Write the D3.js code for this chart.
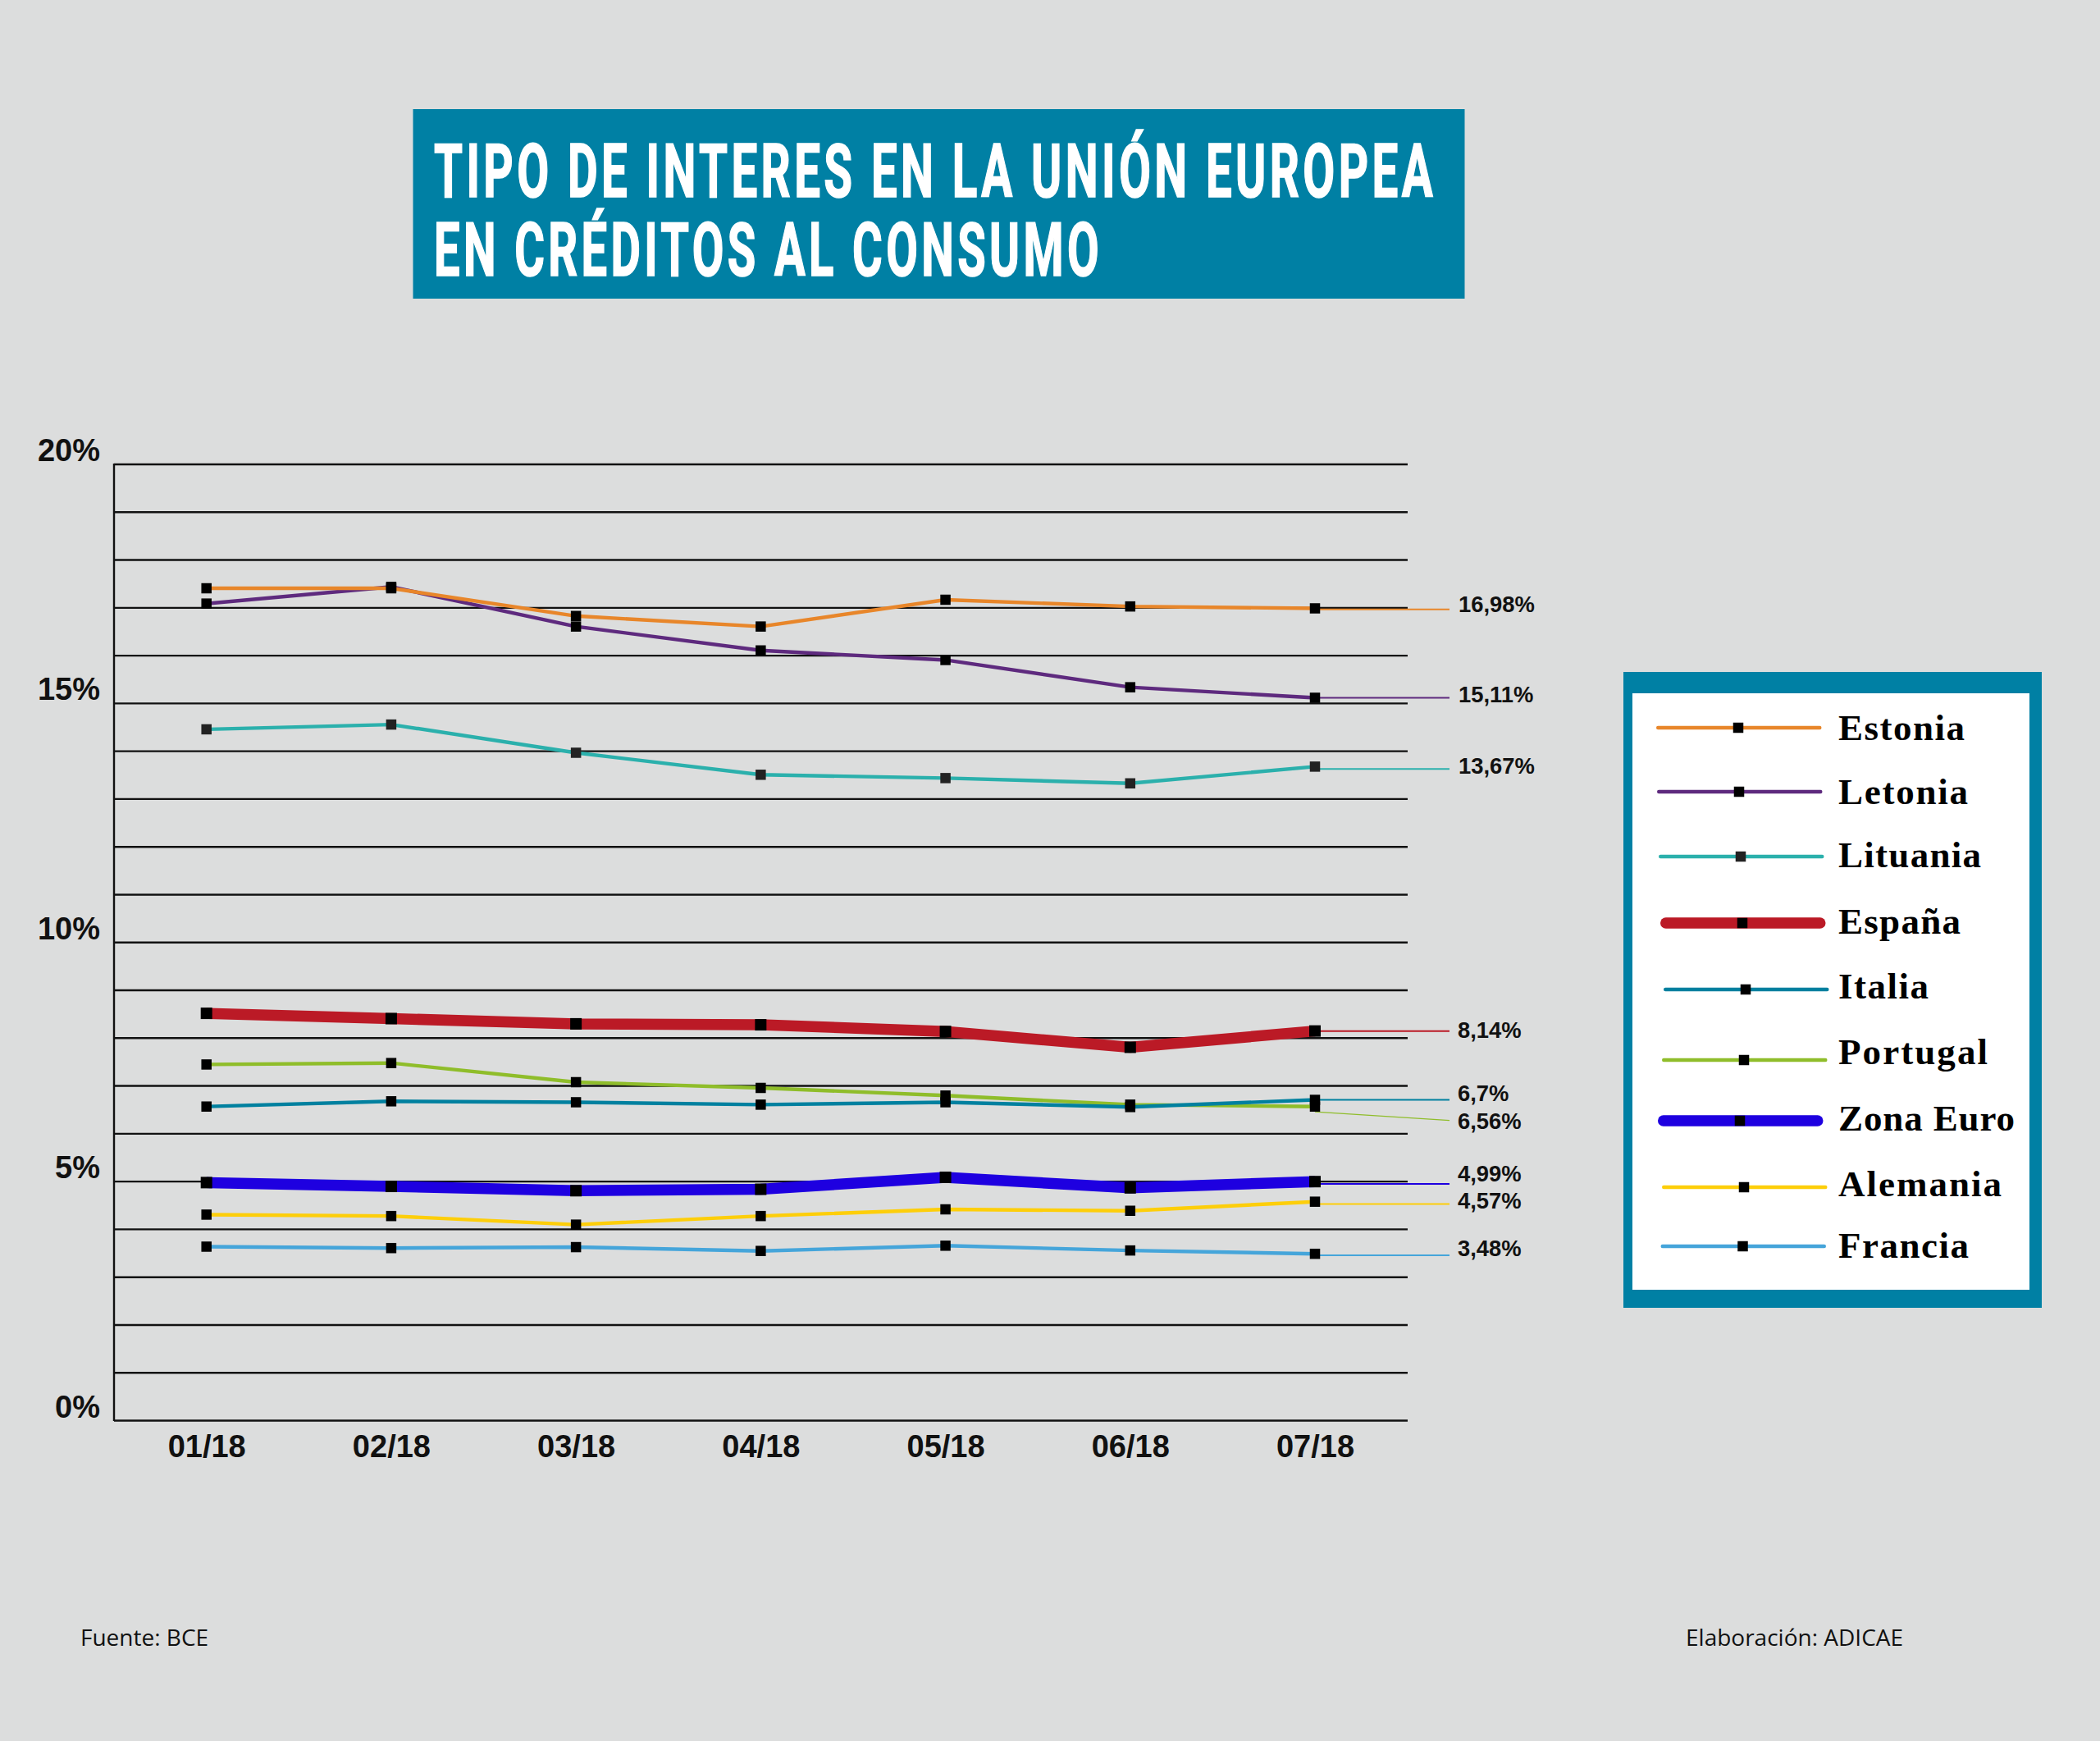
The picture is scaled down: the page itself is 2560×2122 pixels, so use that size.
<!DOCTYPE html>
<html><head><meta charset="utf-8">
<script src="https://cdn.jsdelivr.net/npm/d3@7"></script>
<style>html,body{margin:0;padding:0;background:#dcdddd}svg{display:block}</style></head>
<body><svg id="c" width="2560" height="2122"></svg>
<script>
const months = ["01/18","02/18","03/18","04/18","05/18","06/18","07/18"];
const yTicks = d3.range(0,21);
const yLabelled = [0,5,10,15,20];
const estonia  = [17.40,17.40,16.82,16.60,17.16,17.02,16.98];
const letonia  = [17.08,17.43,16.60,16.10,15.90,15.33,15.11];
const lituania = [14.45,14.55,13.96,13.50,13.43,13.32,13.67];
const espana   = [8.51,8.40,8.29,8.27,8.13,7.80,8.14];
const italia   = [6.56,6.67,6.65,6.60,6.65,6.55,6.70];
const portugal = [7.44,7.47,7.07,6.95,6.79,6.60,6.56];
const zonaEuro = [4.97,4.89,4.80,4.83,5.08,4.86,4.99];
const alemania = [4.30,4.27,4.09,4.27,4.41,4.38,4.57];
const francia  = [3.63,3.60,3.62,3.54,3.65,3.55,3.48];
const seriesNames = ["Estonia","Letonia","Lituania","España","Italia","Portugal","Zona Euro","Alemania","Francia"];
const seriesValues = [estonia,letonia,lituania,espana,italia,portugal,zonaEuro,alemania,francia];
const endLabels = ["16,98%","15,11%","13,67%","8,14%","6,7%","6,56%","4,99%","4,57%","3,48%"];
const leaderEnds = [16.96,15.11,13.62,8.14,6.70,6.27,4.94,4.52,3.45];
const titleLines = ["TIPO DE INTERES EN LA UNIÓN EUROPEA","EN CRÉDITOS AL CONSUMO"];

// styles and layout
const colors = ["#e8862a","#5e2a7e","#2bb0ac","#bb1a26","#00809f","#8fbd2a","#1e00e0","#fdce0a","#45a5da"];
const widths = [4.4,4.4,4.4,13.5,4.4,4.4,13.5,4.4,4.4];
const labelBaselines = [746,856,943,1265,1342,1376,1440,1473,1531];
const legendLineY = [887,965,1044,1125,1206,1292,1366,1447,1519];
const legendTextY = [902,980,1057,1138,1217,1297,1378,1458,1533];
const legendLineX = [2019,2020,2022,2024,2028,2026,2021,2026,2024.5];
const legendTextW = [154,158,174,149,110,182,215,199,159];
const BLUE="#0080a4", sans="'Liberation Sans',Arial,sans-serif";

const svg = d3.select("#c");
svg.append("rect").attr("width",2560).attr("height",2122).attr("fill","#dcdddd");

// title
svg.append("rect").attr("x",503.5).attr("y",133).attr("width",1282).attr("height",231).attr("fill",BLUE);
svg.selectAll(".t").data(titleLines).join("text").attr("class","t")
  .attr("x",529).attr("y",(d,i)=>i?336:240)
  .attr("textLength",(d,i)=>i?815:1222).attr("lengthAdjust","spacingAndGlyphs")
  .attr("font-family","Roboto,sans-serif").attr("font-weight",700).attr("font-size",90)
  .attr("letter-spacing",7).attr("fill","#fff").attr("stroke","#fff").attr("stroke-width",1.6).text(d=>d);

// scales
const x = d3.scalePoint().domain(months).range([251.7,1603]);
const y = d3.scaleLinear().domain([0,20]).range([1731,565.5]);

// axes
const gy = svg.append("g").attr("transform","translate(139,0)")
  .call(d3.axisLeft(y).tickValues(yTicks).tickSize(-1577).tickPadding(0).tickFormat(d=>yLabelled.includes(d)?d+"%":""));
gy.selectAll("line").attr("stroke","#111").attr("stroke-width",2.4);
gy.select(".domain").attr("d","M0,565V1732").attr("stroke","#111").attr("stroke-width",2.4).attr("fill","none");
gy.selectAll("text").attr("x",-17).attr("dy",null).attr("y",-4).attr("font-family",sans).attr("font-weight",700)
  .attr("font-size",38).attr("fill","#111").attr("text-anchor","end");

const gx = svg.append("g").attr("transform","translate(0,1730)")
  .call(d3.axisBottom(x).tickSize(0));
gx.select(".domain").remove();
gx.selectAll("text").attr("y",46).attr("dy",null).attr("font-family",sans).attr("font-weight",700)
  .attr("font-size",38).attr("fill","#111").attr("text-anchor","middle");

// series
const line = d3.line().x((d,i)=>x(months[i])).y(d=>y(d));
const order = [2,1,0,3,5,4,6,7,8];
svg.append("g").selectAll("path").data(order).join("path")
  .attr("d",k=>line(seriesValues[k])).attr("fill","none")
  .attr("stroke",k=>colors[k]).attr("stroke-width",k=>widths[k]).attr("stroke-linejoin","miter");

// leaders
svg.append("g").selectAll("line").data(order).join("line")
  .attr("x1",x(months[6])).attr("x2",1767)
  .attr("y1",k=>y(k===5?6.45:leaderEnds[k]))
  .attr("y2",k=>y(leaderEnds[k]))
  .attr("stroke",k=>colors[k]).attr("stroke-width",k=>k===5?1.2:2);

// markers
const mg = svg.append("g");
seriesValues.forEach((vals,k)=>{
  const s = widths[k]>10?14:12.5;
  mg.selectAll(null).data(vals).join("rect")
    .attr("x",(d,i)=>x(months[i])-s/2).attr("y",d=>y(d)-s/2)
    .attr("width",s).attr("height",s).attr("fill",k===2?"#222":"#000");
});

// end labels
svg.selectAll(".el").data(endLabels).join("text").attr("class","el")
  .attr("x",(d,i)=>i<3?1778:1777).attr("y",(d,i)=>labelBaselines[i])
  .attr("font-family",sans).attr("font-weight",700).attr("font-size",27.4).attr("fill","#111").text(d=>d);

// legend
svg.append("rect").attr("x",1979).attr("y",819).attr("width",510).attr("height",775).attr("fill",BLUE);
svg.append("rect").attr("x",1990).attr("y",845).attr("width",484).attr("height",727).attr("fill","#fff");
const lg = svg.append("g");
seriesNames.forEach((n,i)=>{
  const x0 = legendLineX[i], w = 201.5;
  lg.append("line").attr("x1",x0+widths[i]/2).attr("x2",x0+w-widths[i]/2).attr("y1",legendLineY[i]).attr("y2",legendLineY[i])
    .attr("stroke",colors[i]).attr("stroke-width",widths[i]).attr("stroke-linecap","round");
  lg.append("rect").attr("x",x0+100-6.25).attr("y",legendLineY[i]-6.25).attr("width",12.5).attr("height",12.5).attr("fill",i===2?"#222":"#000");
  lg.append("text").attr("x",2241).attr("y",legendTextY[i]).attr("font-family","'Liberation Serif',serif")
    .attr("font-weight",700).attr("font-size",45).attr("textLength",legendTextW[i]).attr("lengthAdjust","spacing").attr("fill","#000").text(n);
});

// footer
svg.append("text").attr("x",98).attr("y",2006).attr("font-family","'Open Sans',sans-serif").attr("font-size",28).attr("fill","#111").text("Fuente: BCE");
svg.append("text").attr("x",2055).attr("y",2006).attr("font-family","'Open Sans',sans-serif").attr("font-size",28).attr("fill","#111").text("Elaboración: ADICAE");
</script></body></html>
